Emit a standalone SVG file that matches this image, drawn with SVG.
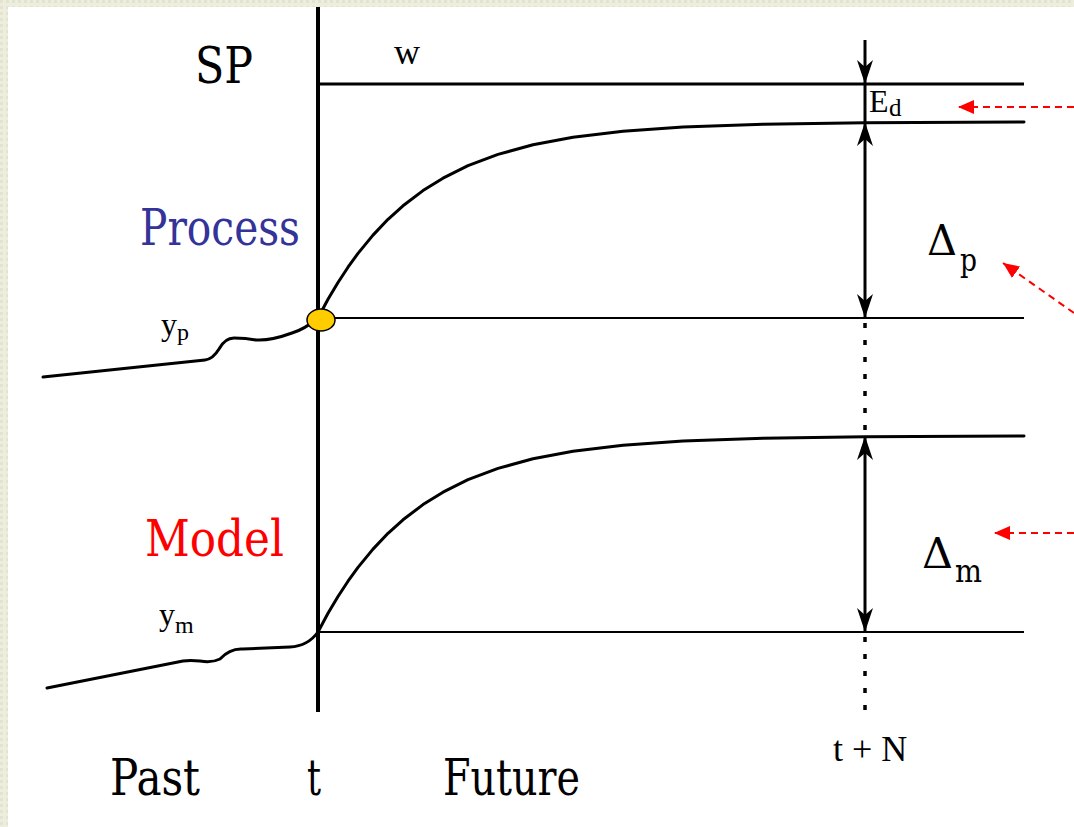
<svg xmlns="http://www.w3.org/2000/svg" width="1074" height="827" viewBox="0 0 1074 827">
<style>
.thick{stroke:#000;stroke-width:3;fill:none;stroke-linejoin:round;stroke-linecap:round}
.thin{stroke:#000;stroke-width:2.2;fill:none}
.dot{stroke:#000;stroke-width:3.5;stroke-dasharray:5 12;fill:none}
.red{stroke:#FF0000;stroke-width:2;stroke-dasharray:7 5;fill:none}
.ser{font-family:'DejaVu Serif',serif}
.lib{font-family:'Liberation Serif','Times New Roman',serif}
</style>
<defs>
<pattern id="tex" width="6" height="6" patternUnits="userSpaceOnUse">
<rect width="6" height="6" fill="#EEEEDF"/>
<rect x="0" y="0" width="3" height="3" fill="#E3E3D0"/>
</pattern>
<marker id="ah" viewBox="0 0 24 16" refX="24" refY="8" markerWidth="24" markerHeight="16" markerUnits="userSpaceOnUse" orient="auto-start-reverse">
<path d="M24,8 L0,0 L7,8 L0,16 Z" fill="#000"/>
</marker>
<marker id="rh" viewBox="0 0 16 14" refX="16" refY="7" markerWidth="16" markerHeight="14" markerUnits="userSpaceOnUse" orient="auto">
<path d="M16,7 L0,0 L0,14 Z" fill="#FF0000"/>
</marker>
<path id="resp" d="M318,318 L328,299.3 L338,282.5 L348,267.2 L358,253.4 L373,235.1 L388,219.3 L403,205.8 L423,190.6 L443,178.2 L468,165.7 L498,154.4 L533,144.8 L573,137.3 L623,131.3 L683,127.1 L763,124.3 L865,122.8 L1024,122"/>
</defs>
<rect width="1074" height="827" fill="url(#tex)"/>
<rect x="8" y="7" width="1066" height="820" fill="#FFFFFF"/>

<g id="axes">
<line x1="318" y1="7" x2="318" y2="712" stroke="#000" stroke-width="4"/>
<line x1="318" y1="84" x2="1024" y2="84" stroke="#000" stroke-width="3"/>
<line class="thin" x1="318" y1="318" x2="1024" y2="318"/>
<line class="thin" x1="318" y1="632" x2="1024" y2="632"/>
</g>

<g id="process-curve">
<use href="#resp" class="thick"/>
<path class="thick" d="M43,377 L205,360 Q213,359 219,349 Q225,338 234,338 Q246,338 256,340 Q270,341 292,333 Q305,329 318,318"/>
<ellipse cx="321" cy="320" rx="14" ry="11" fill="#FFCC00" stroke="#000" stroke-width="1.5"/>
</g>

<g id="model-curve">
<use href="#resp" class="thick" transform="translate(0,314)"/>
<path class="thick" d="M47,688 L183,661 Q190,660 200,661 Q212,663 220,659 Q230,648 243,649 L290,647 Q308,646 318,632"/>
</g>

<g id="connectors">
<line x1="865" y1="40" x2="865" y2="84" stroke="#000" stroke-width="3" marker-end="url(#ah)"/>
<line x1="865" y1="84" x2="865" y2="122" stroke="#000" stroke-width="3"/>
<line x1="865" y1="122" x2="865" y2="318" stroke="#000" stroke-width="3" marker-start="url(#ah)" marker-end="url(#ah)"/>
<line class="dot" x1="865" y1="323" x2="865" y2="436"/>
<line x1="865" y1="436" x2="865" y2="632" stroke="#000" stroke-width="3" marker-start="url(#ah)" marker-end="url(#ah)"/>
<line class="dot" x1="865" y1="637" x2="865" y2="712"/>
<line class="red" x1="1074" y1="107" x2="958" y2="107" marker-end="url(#rh)"/>
<line class="red" x1="1074" y1="313" x2="1003" y2="263" marker-end="url(#rh)"/>
<line class="red" x1="1074" y1="533" x2="994" y2="533" marker-end="url(#rh)"/>
</g>

<g id="labels" fill="#000">
<g id="label-sp"><text class="ser" x="195" y="83" font-size="50" textLength="58" lengthAdjust="spacingAndGlyphs">SP</text></g>
<g id="label-w"><text class="lib" x="394" y="64" font-size="36">w</text></g>
<g id="label-process"><text class="ser" x="140" y="245" font-size="51" fill="#333399" textLength="160" lengthAdjust="spacingAndGlyphs">Process</text></g>
<g id="label-model"><text class="ser" x="145" y="556" font-size="51" fill="#FF0000" textLength="139" lengthAdjust="spacingAndGlyphs">Model</text></g>
<g id="label-yp" class="lib"><text x="161" y="335" font-size="32">y</text><text x="177" y="340" font-size="24">p</text></g>
<g id="label-ym" class="lib"><text x="159" y="625" font-size="32">y</text><text x="175" y="633" font-size="24">m</text></g>
<g id="label-ed" class="lib"><text x="869" y="112" font-size="32">E</text><text x="889" y="116" font-size="25">d</text></g>
<g id="label-dp" class="ser"><text x="927" y="255" font-size="43" textLength="30" lengthAdjust="spacingAndGlyphs">Δ</text><text x="960" y="271" font-size="31" textLength="17" lengthAdjust="spacingAndGlyphs">p</text></g>
<g id="label-dm" class="ser"><text x="922" y="568" font-size="43" textLength="31" lengthAdjust="spacingAndGlyphs">Δ</text><text x="955" y="582" font-size="31" textLength="27" lengthAdjust="spacingAndGlyphs">m</text></g>
<g id="label-tn" class="lib"><text x="833" y="761" font-size="36" xml:space="preserve">t + N</text></g>
<g id="label-past"><text class="ser" x="110" y="795" font-size="51" textLength="90" lengthAdjust="spacingAndGlyphs">Past</text></g>
<g id="label-t"><text class="ser" x="307" y="795" font-size="51" textLength="14" lengthAdjust="spacingAndGlyphs">t</text></g>
<g id="label-future"><text class="ser" x="443" y="795" font-size="51" textLength="137" lengthAdjust="spacingAndGlyphs">Future</text></g>
</g>
</svg>
